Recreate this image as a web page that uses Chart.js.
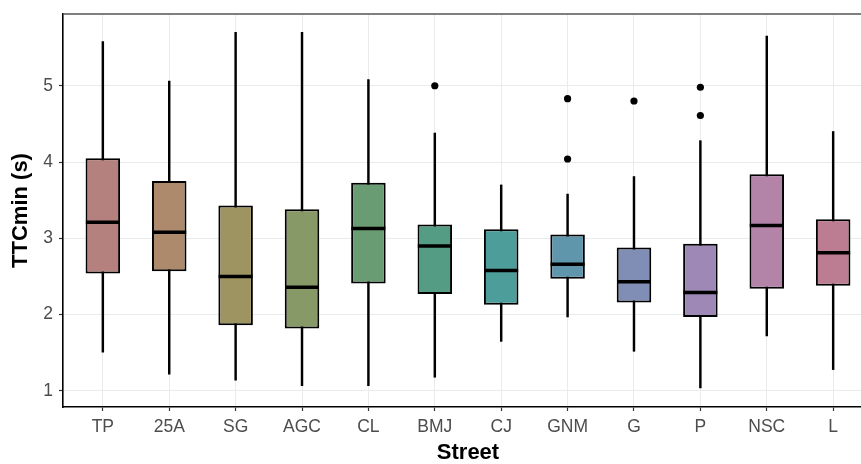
<!DOCTYPE html>
<html>
<head>
<meta charset="utf-8">
<script src="https://cdn.jsdelivr.net/npm/chart.js@4/dist/chart.umd.min.js"></script>
<style>
  html, body { margin: 0; padding: 0; background: #fff; overflow: hidden; }
  /* the panel runs a little past the right edge of the picture, as in the reference */
  #wrap { width: 873px; height: 464px; }
</style>
</head>
<body>
<div id="wrap"><canvas id="chart"></canvas></div>
<script>
// values
const streets = ['TP', '25A', 'SG', 'AGC', 'CL', 'BMJ', 'CJ', 'GNM', 'G', 'P', 'NSC', 'L'];
const whiskerLow  = [1.51, 1.22, 1.14, 1.07, 1.07, 1.18, 1.65, 1.97, 1.52, 1.04, 1.72, 1.28];
const q1          = [2.54, 2.57, 1.86, 1.82, 2.41, 2.27, 2.13, 2.47, 2.16, 1.97, 2.34, 2.38];
const medians     = [3.21, 3.08, 2.50, 2.36, 3.13, 2.90, 2.58, 2.66, 2.43, 2.29, 3.17, 2.81];
const q3          = [4.05, 3.75, 3.43, 3.38, 3.73, 3.18, 3.12, 3.05, 2.88, 2.93, 3.84, 3.25];
const whiskerHigh = [5.58, 5.06, 5.70, 5.70, 5.08, 4.38, 3.70, 3.58, 3.81, 4.28, 5.65, 4.40];
const outlierStreet = ['BMJ', 'GNM', 'GNM', 'G', 'P', 'P'];
const outlierValue  = [5.00, 4.83, 4.04, 4.80, 4.98, 4.61];
const yTicks = [1, 2, 3, 4, 5];
const boxColors = ['#B5817E', '#AD8A6C', '#9E9462', '#879966', '#6A9C73', '#559C84',
                   '#4D9E9B', '#6096AC', '#808DB4', '#9E88B5', '#B483A8', '#BC7D93'];

const tickFont = {family: "'Liberation Sans', Arial, sans-serif", size: 17.5};
const titleFont = {family: "'Liberation Sans', Arial, sans-serif", size: 22, weight: 'bold', lineHeight: 1.0};

// grey frame line along the top of the panel
const topBorder = {
    id: 'topBorder',
    afterDraw(chart) {
        const {ctx, chartArea} = chart;
        ctx.save();
        ctx.strokeStyle = '#555555';
        ctx.lineWidth = 1.5;
        ctx.beginPath();
        ctx.moveTo(chartArea.left, chartArea.top);
        ctx.lineTo(chartArea.right, chartArea.top);
        ctx.stroke();
        ctx.restore();
    }
};

function noPadding(axis) {
    axis.paddingTop = 0;
    axis.paddingBottom = 0;
    axis.paddingLeft = 0;
    axis.paddingRight = 0;
}

new Chart(document.getElementById('chart'), {
    type: 'bar',
    data: {
        datasets: [
            {
                // whiskers
                data: streets.map((s, i) => ({x: i, y: [whiskerLow[i], whiskerHigh[i]]})),
                grouped: false,
                backgroundColor: '#000000',
                borderWidth: 0,
                barPercentage: 1,
                categoryPercentage: 1,
                maxBarThickness: 1.8,
                order: 3
            },
            {
                // boxes
                data: streets.map((s, i) => ({x: i, y: [q1[i], q3[i]]})),
                grouped: false,
                backgroundColor: boxColors,
                borderColor: '#000000',
                borderWidth: 2,
                borderSkipped: false,
                barPercentage: 0.52,
                categoryPercentage: 1,
                order: 2
            },
            {
                // medians
                type: 'scatter',
                data: streets.map((s, i) => ({x: i, y: medians[i]})),
                pointStyle: 'line',
                pointRadius: 17,
                borderColor: '#000000',
                borderWidth: 3.5,
                order: 1
            },
            {
                // outliers
                type: 'scatter',
                data: outlierStreet.map((s, i) => ({x: streets.indexOf(s), y: outlierValue[i]})),
                pointRadius: 3.6,
                backgroundColor: '#000000',
                borderWidth: 0,
                order: 0
            }
        ]
    },
    options: {
        responsive: true,
        maintainAspectRatio: false,
        animation: false,
        events: [],
        layout: {autoPadding: false, padding: {top: 14, right: 0, left: 0, bottom: 0}},
        plugins: {
            legend: {display: false},
            tooltip: {enabled: false}
        },
        scales: {
            x: {
                type: 'linear',
                offset: false,
                min: -0.6,
                max: 11.6,
                afterBuildTicks: axis => { axis.ticks = streets.map((s, i) => ({value: i})); },
                afterFit: axis => { axis.height = 57; noPadding(axis); },
                ticks: {
                    callback: v => streets[v],
                    color: '#4D4D4D',
                    font: tickFont,
                    padding: 6,
                    maxRotation: 0,
                    autoSkip: false
                },
                grid: {
                    offset: false,
                    color: '#EBEBEB',
                    lineWidth: 1,
                    tickLength: 4,
                    tickColor: '#333333',
                    tickWidth: 1.2
                },
                border: {color: '#000000', width: 1.6},
                title: {
                    display: true,
                    text: 'Street',
                    color: '#000000',
                    font: titleFont,
                    padding: {top: 6, bottom: 0}
                }
            },
            y: {
                min: 0.79,
                max: 5.94,
                afterBuildTicks: axis => { axis.ticks = yTicks.map(v => ({value: v})); },
                afterFit: axis => { axis.width = 63; noPadding(axis); },
                ticks: {
                    color: '#4D4D4D',
                    font: tickFont,
                    padding: 6
                },
                grid: {
                    color: '#EBEBEB',
                    lineWidth: 1,
                    tickLength: 4,
                    tickColor: '#333333',
                    tickWidth: 1.2
                },
                border: {color: '#000000', width: 1.6},
                title: {
                    display: true,
                    text: 'TTCmin (s)',
                    color: '#000000',
                    font: titleFont,
                    padding: {top: 10, bottom: 0}
                }
            }
        }
    },
    plugins: [topBorder]
});
</script>
</body>
</html>
